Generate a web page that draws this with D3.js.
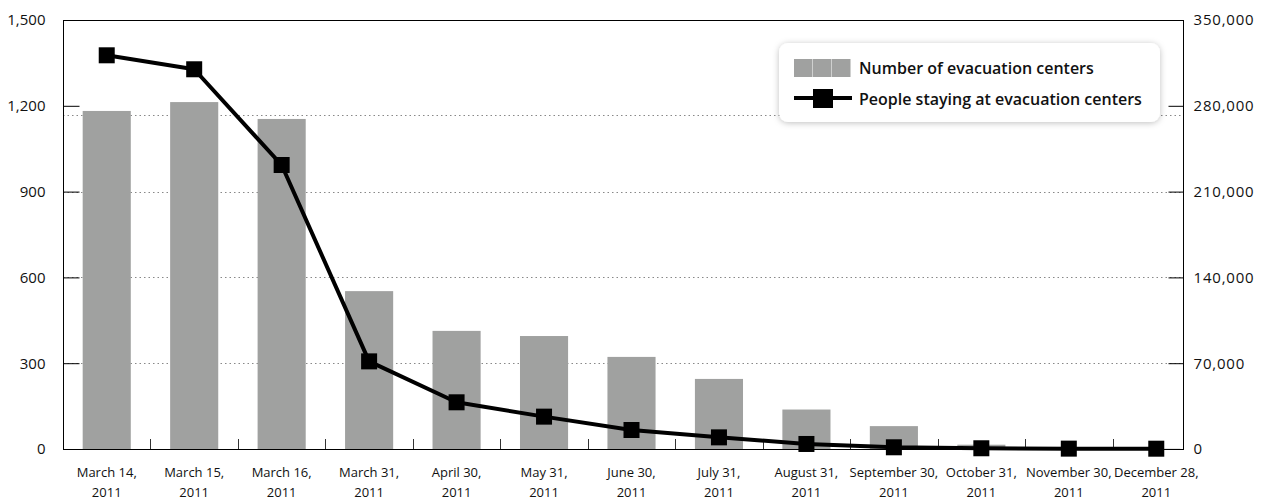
<!doctype html>
<html lang="en">
<head>
  <meta charset="utf-8">
  <title>Evacuation centers 2011</title>
  <style>
    body { margin: 0; background: #fff; }
    svg { display: block; font-family: "Open Sans", sans-serif; }
  </style>
</head>
<body>
  <script src="https://cdn.jsdelivr.net/npm/d3@7"></script>
  <script>
    // Data
    const dates = ['March 14,', 'March 15,', 'March 16,', 'March 31,', 'April 30,', 'May 31,',
                   'June 30,', 'July 31,', 'August 31,', 'September 30,', 'October 31,',
                   'November 30,', 'December 28,'];
    const year = '2011';
    const centers = [1182, 1213, 1154, 552, 413, 395, 322, 245, 138, 80, 15, 3, 1];
    const people = [321200, 309800, 231700, 71500, 38100, 26400, 15500, 9500, 4100, 1400, 600, 300, 250];
    const leftTicks = [0, 300, 600, 900, 1200, 1500];
    const rightTicks = [0, 70000, 140000, 210000, 280000, 350000];
    const gridValues = [300, 600, 900, 1168];

    // Layout
    const w = 1271;
    const h = 502;
    const plotLeft = 63;
    const plotRight = 1183;
    const plotTop = 20;
    const plotBottom = 449;

    const svg = d3.select('body')
                  .append('svg')
                  .attr('width', w)
                  .attr('height', h);

    const xScale = d3.scaleBand()
                     .domain(dates)
                     .range([plotLeft, 1200])
                     .padding(0);

    const yLeft = d3.scaleLinear()
                    .domain([0, 1500])
                    .range([plotBottom, plotTop]);

    const yRight = d3.scaleLinear()
                     .domain([0, 350000])
                     .range([plotBottom, plotTop]);

    // Dotted gridlines
    svg.append('g')
       .selectAll('line')
       .data(gridValues)
       .enter()
       .append('line')
       .attr('x1', plotLeft)
       .attr('x2', plotRight)
       .attr('y1', (d) => Math.round(yLeft(d)) + 0.5)
       .attr('y2', (d) => Math.round(yLeft(d)) + 0.5)
       .attr('stroke', '#888')
       .attr('stroke-width', 1)
       .attr('stroke-dasharray', '1.5,3');

    // Bars
    const bw = xScale.bandwidth() * 0.55;
    svg.append('g')
       .selectAll('rect')
       .data(centers)
       .enter()
       .append('rect')
       .attr('x', (d, i) => xScale(dates[i]) + (xScale.bandwidth() - bw) / 2)
       .attr('y', (d) => yLeft(d))
       .attr('width', bw)
       .attr('height', (d) => plotBottom - yLeft(d))
       .attr('fill', '#a0a1a0');

    // Frame
    svg.append('rect')
       .attr('x', plotLeft + 0.5)
       .attr('y', plotTop + 0.5)
       .attr('width', plotRight - plotLeft)
       .attr('height', plotBottom - plotTop)
       .attr('fill', 'none')
       .attr('stroke', '#000')
       .attr('stroke-width', 1);

    // Left and right axes (ticks point inward)
    const axisL = svg.append('g')
                     .attr('transform', `translate(${plotLeft + 0.5},0)`)
                     .call(d3.axisLeft(yLeft)
                             .tickValues(leftTicks)
                             .tickSize(-16)
                             .tickPadding(18)
                             .tickFormat(d3.format(',')));
    axisL.select('.domain').remove();

    const axisR = svg.append('g')
                     .attr('transform', `translate(${plotRight + 0.5},0)`)
                     .call(d3.axisRight(yRight)
                             .tickValues(rightTicks)
                             .tickSize(-15)
                             .tickPadding(10)
                             .tickFormat(d3.format(',')));
    axisR.select('.domain').remove();

    svg.selectAll('.tick text')
       .attr('font-size', 15)
       .attr('fill', '#111')
       .attr('font-family', '"Open Sans", sans-serif');
    axisR.selectAll('.tick text').attr('letter-spacing', 0.8);

    // Bottom ticks between categories
    svg.append('g')
       .selectAll('line')
       .data(dates.slice(1))
       .enter()
       .append('line')
       .attr('x1', (d) => Math.round(xScale(d)) + 0.5)
       .attr('x2', (d) => Math.round(xScale(d)) + 0.5)
       .attr('y1', plotBottom)
       .attr('y2', plotBottom - 10)
       .attr('stroke', '#333');

    // Category labels
    const labels = svg.append('g')
                      .selectAll('text')
                      .data(dates)
                      .enter()
                      .append('text')
                      .attr('x', (d) => xScale(d) + xScale.bandwidth() / 2)
                      .attr('y', 477)
                      .attr('text-anchor', 'middle')
                      .attr('font-size', 13)
                      .attr('fill', '#111');
    labels.append('tspan').text((d) => d);
    labels.append('tspan')
          .attr('x', (d) => xScale(d) + xScale.bandwidth() / 2)
          .attr('dy', 20)
          .text(year);

    // People line
    const line = d3.line()
                   .x((d, i) => xScale(dates[i]) + xScale.bandwidth() / 2)
                   .y((d) => yRight(d));

    svg.append('path')
       .datum(people)
       .attr('d', line)
       .attr('fill', 'none')
       .attr('stroke', '#000')
       .attr('stroke-width', 4)
       .attr('stroke-linejoin', 'round');

    svg.append('g')
       .selectAll('rect')
       .data(people)
       .enter()
       .append('rect')
       .attr('x', (d, i) => xScale(dates[i]) + xScale.bandwidth() / 2 - 8)
       .attr('y', (d) => yRight(d) - 8)
       .attr('width', 16)
       .attr('height', 16)
       .attr('fill', '#000');

    // Legend
    const defs = svg.append('defs');
    const filter = defs.append('filter')
                       .attr('id', 'shadow')
                       .attr('x', '-10%').attr('y', '-30%')
                       .attr('width', '120%').attr('height', '160%');
    filter.append('feDropShadow')
          .attr('dx', 0).attr('dy', 1)
          .attr('stdDeviation', 3)
          .attr('flood-color', '#000')
          .attr('flood-opacity', 0.25);

    const legend = svg.append('g');
    legend.append('rect')
          .attr('x', 779)
          .attr('y', 43)
          .attr('width', 381)
          .attr('height', 79)
          .attr('rx', 9)
          .attr('fill', '#fff')
          .attr('filter', 'url(#shadow)');

    legend.selectAll('rect.sw')
          .data([0, 1, 2])
          .enter()
          .append('rect')
          .attr('class', 'sw')
          .attr('x', (d) => 794 + d * 19)
          .attr('y', 59)
          .attr('width', 18.5)
          .attr('height', 18)
          .attr('fill', '#a0a1a0');

    legend.append('line')
          .attr('x1', 794).attr('x2', 852)
          .attr('y1', 98).attr('y2', 98)
          .attr('stroke', '#000')
          .attr('stroke-width', 4);
    legend.append('rect')
          .attr('x', 813).attr('y', 89)
          .attr('width', 20).attr('height', 19)
          .attr('fill', '#000');

    legend.selectAll('text')
          .data(['Number of evacuation centers', 'People staying at evacuation centers'])
          .enter()
          .append('text')
          .attr('x', 859)
          .attr('y', (d, i) => 68 + i * 31)
          .attr('dy', '0.35em')
          .attr('font-size', 16)
          .attr('font-weight', 600)
          .attr('fill', '#111')
          .text((d) => d);
  </script>
</body>
</html>
